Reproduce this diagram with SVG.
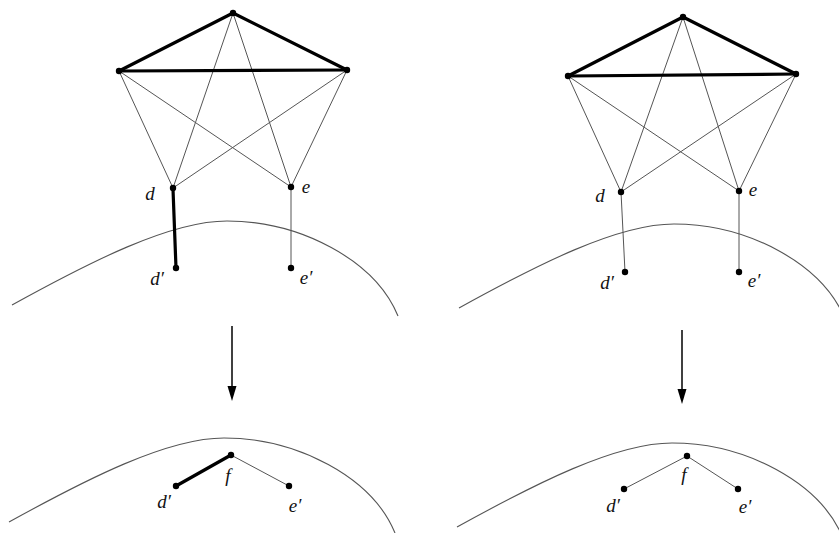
<svg xmlns="http://www.w3.org/2000/svg" width="839" height="533" viewBox="0 0 839 533">
<defs>
<style>
.thin{stroke:#555;stroke-width:1;fill:none}
.thick{stroke:#000;stroke-width:3.2;fill:none;stroke-linecap:round}
.curve{stroke:#555;stroke-width:1.1;fill:none}
.dot{fill:#000}
.lbl{font-family:"Liberation Serif","DejaVu Serif",serif;font-style:italic;font-size:19px;fill:#111;text-anchor:middle}
.arr{stroke:#000;stroke-width:1.5;fill:none}
</style>
<path id="hill" d="M12,305 C90,262 170,221 227,221 C300,221 375,260 398,316"/>
</defs>
<rect width="839" height="533" fill="#fff"/>

<g id="curves">
<use href="#hill" class="curve"/>
<use href="#hill" class="curve" transform="translate(-3,217)"/>
<use href="#hill" class="curve" transform="translate(447,3)"/>
<use href="#hill" class="curve" transform="translate(445,222)"/>
</g>

<g id="connectors">
<!-- left pentagon -->
<line class="thin" x1="233" y1="13" x2="173" y2="188"/>
<line class="thin" x1="233" y1="13" x2="291" y2="187"/>
<line class="thin" x1="119" y1="71" x2="173" y2="188"/>
<line class="thin" x1="119" y1="71" x2="291" y2="187"/>
<line class="thin" x1="347" y1="70" x2="173" y2="188"/>
<line class="thin" x1="347" y1="70" x2="291" y2="187"/>
<line class="thick" x1="119" y1="71" x2="233" y2="13"/>
<line class="thick" x1="233" y1="13" x2="347" y2="70"/>
<line class="thick" x1="119" y1="71" x2="347" y2="70"/>
<line class="thick" x1="173" y1="189" x2="176" y2="268"/>
<line class="thin" x1="291" y1="187" x2="291" y2="268"/>
<!-- right pentagon -->
<line class="thin" x1="683" y1="17" x2="621" y2="192"/>
<line class="thin" x1="683" y1="17" x2="739" y2="191"/>
<line class="thin" x1="568" y1="76" x2="621" y2="192"/>
<line class="thin" x1="568" y1="76" x2="739" y2="191"/>
<line class="thin" x1="796" y1="74" x2="621" y2="192"/>
<line class="thin" x1="796" y1="74" x2="739" y2="191"/>
<line class="thick" x1="568" y1="76" x2="683" y2="17"/>
<line class="thick" x1="683" y1="17" x2="796" y2="74"/>
<line class="thick" x1="568" y1="76" x2="796" y2="74"/>
<line class="thin" x1="621" y1="192" x2="625" y2="272"/>
<line class="thin" x1="739" y1="191" x2="739" y2="272"/>
<!-- bottom -->
<line class="thick" x1="176" y1="486" x2="231" y2="455"/>
<line class="thin" x1="231" y1="455" x2="289" y2="486"/>
<line class="thin" x1="624" y1="489" x2="687" y2="456"/>
<line class="thin" x1="687" y1="456" x2="738" y2="489"/>
<!-- arrows -->
<line class="arr" x1="232" y1="326" x2="232" y2="388"/>
<path d="M227.5,386 L236.5,386 L232,401 Z" fill="#000"/>
<line class="arr" x1="682" y1="330" x2="682" y2="391"/>
<path d="M677.5,389 L686.5,389 L682,404 Z" fill="#000"/>
</g>

<g id="node-left-top"><circle class="dot" cx="233" cy="13" r="3.2"/></g>
<g id="node-left-l"><circle class="dot" cx="119" cy="71" r="3.2"/></g>
<g id="node-left-r"><circle class="dot" cx="347" cy="70" r="3.2"/></g>
<g id="node-left-d"><circle class="dot" cx="173" cy="188" r="3.2"/><text class="lbl" x="150" y="200">d</text></g>
<g id="node-left-e"><circle class="dot" cx="291" cy="187" r="3.2"/><text class="lbl" x="306" y="193">e</text></g>
<g id="node-left-dp"><circle class="dot" cx="176" cy="268" r="3.2"/><text class="lbl" x="157" y="285">d′</text></g>
<g id="node-left-ep"><circle class="dot" cx="291" cy="268" r="3.2"/><text class="lbl" x="306" y="284">e′</text></g>

<g id="node-right-top"><circle class="dot" cx="683" cy="17" r="3.2"/></g>
<g id="node-right-l"><circle class="dot" cx="568" cy="76" r="3.2"/></g>
<g id="node-right-r"><circle class="dot" cx="796" cy="74" r="3.2"/></g>
<g id="node-right-d"><circle class="dot" cx="621" cy="192" r="3.2"/><text class="lbl" x="600" y="202">d</text></g>
<g id="node-right-e"><circle class="dot" cx="739" cy="191" r="3.2"/><text class="lbl" x="753" y="196">e</text></g>
<g id="node-right-dp"><circle class="dot" cx="625" cy="272" r="3.2"/><text class="lbl" x="607" y="289">d′</text></g>
<g id="node-right-ep"><circle class="dot" cx="739" cy="272" r="3.2"/><text class="lbl" x="754" y="287">e′</text></g>

<g id="node-bl-f"><circle class="dot" cx="231" cy="455" r="3.2"/><text class="lbl" x="228" y="482">f</text></g>
<g id="node-bl-dp"><circle class="dot" cx="176" cy="486" r="3.2"/><text class="lbl" x="164" y="508">d′</text></g>
<g id="node-bl-ep"><circle class="dot" cx="289" cy="486" r="3.2"/><text class="lbl" x="295" y="512">e′</text></g>

<g id="node-br-f"><circle class="dot" cx="687" cy="456" r="3.2"/><text class="lbl" x="684" y="481">f</text></g>
<g id="node-br-dp"><circle class="dot" cx="624" cy="489" r="3.2"/><text class="lbl" x="613" y="512">d′</text></g>
<g id="node-br-ep"><circle class="dot" cx="738" cy="489" r="3.2"/><text class="lbl" x="745" y="513">e′</text></g>
</svg>
